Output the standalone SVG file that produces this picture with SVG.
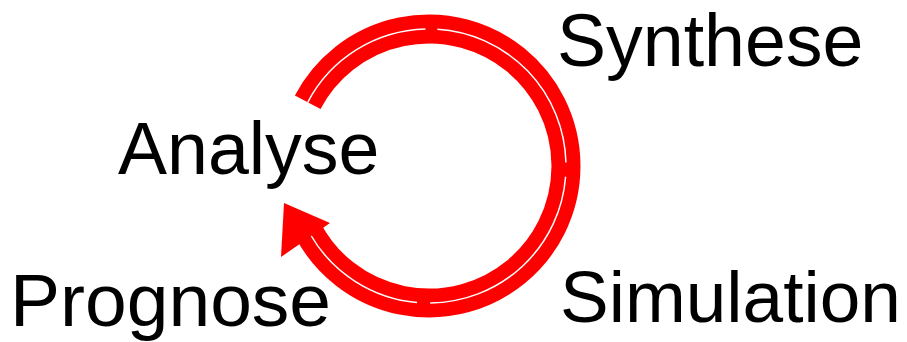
<svg xmlns="http://www.w3.org/2000/svg" width="907" height="342" viewBox="0 0 907 342">
<style>
.lbl{font-family:"Liberation Sans",Arial,sans-serif;font-size:74px;fill:#000}
.band{fill:none;stroke:#ff0000;stroke-width:29;stroke-linecap:butt}
.mid{fill:none;stroke:#ffffff;stroke-width:1.5;stroke-linecap:butt}
</style>
<rect width="907" height="342" fill="#ffffff"/>
<g id="connectors">
<path class="band" d="M307.7,102.3 A137,137 0 1 1 308.0,230.3"/>
<path class="mid" d="M307.7,102.3 A137,137 0 0 1 425.4,29.05"/>
<path class="mid" d="M437.4,29.26 A137,137 0 0 1 565.95,162.4"/>
<path class="mid" d="M565.6,176.7 A137,137 0 0 1 430.2,303.0"/>
<path class="mid" d="M417.1,302.5 A137,137 0 0 1 310.4,234.5"/>
<polygon points="284,203 330,223 281,257" fill="#ff0000"/>
</g>
<g id="synthese"><text class="lbl" x="557" y="66" style="font-size:73.5px">Synthese</text></g>
<g id="analyse"><text class="lbl" x="118" y="174" style="font-size:73.5px">Analyse</text></g>
<g id="prognose"><text class="lbl" x="10" y="326" style="font-size:75px">Prognose</text></g>
<g id="simulation"><text class="lbl" x="560" y="322" style="font-size:73px">Simulation</text></g>
</svg>
